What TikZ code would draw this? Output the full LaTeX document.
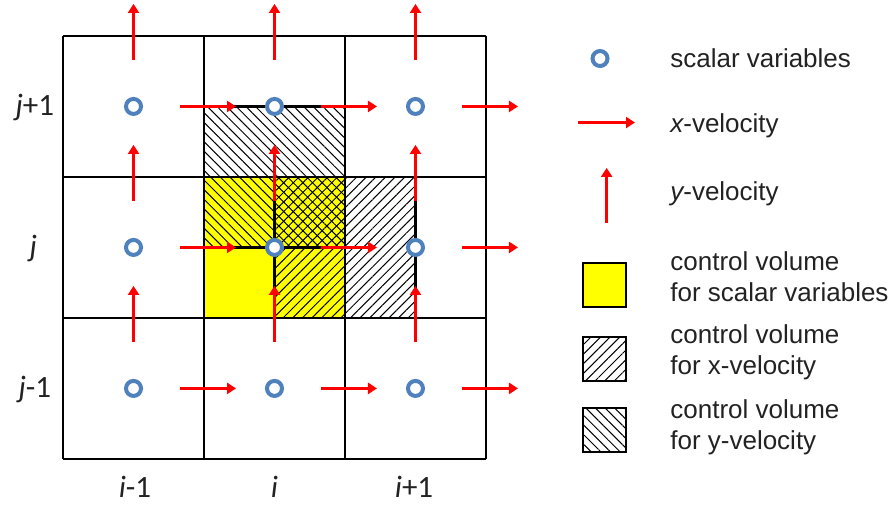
\documentclass[tikz,border=0pt]{standalone}
\usepackage{fontspec}
\setmainfont{Liberation Sans}
\newfontfamily\idxfont{Carlito}
\usetikzlibrary{arrows.meta, patterns.meta}
\definecolor{cred}{HTML}{FF0000}
\definecolor{cblue}{HTML}{4F81BD}
\definecolor{cyellow}{HTML}{FFFF00}
\definecolor{ctext}{HTML}{222222}
\tikzset{
  every picture/.style={x=70.5pt, y=70.5pt},
  gridline/.style={draw=black, line width=0.65pt},
  cvline/.style={draw=black, line width=1.3pt},
  vel/.style={-{Triangle[length=4.5pt, width=5.5pt]}, draw=cred, line width=1.5pt},
  scalar/.style={circle, draw=cblue, fill=white, line width=2pt, minimum size=7.5pt, inner sep=0pt},
  xhatch/.style={pattern={Lines[angle=45, distance=3.4pt, line width=0.5pt]}},
  yhatch/.style={pattern={Lines[angle=-45, distance=3.4pt, line width=0.5pt]}},
  legend/.style={font=\fontsize{13}{15.5}\selectfont, text=ctext, anchor=west, align=left, inner sep=0pt},
  index/.style={font=\idxfont\fontsize{15.5}{18}\selectfont, text=ctext},
}

\begin{document}
\begin{tikzpicture}
  \useasboundingbox (-0.447,-0.326) rectangle (5.887,3.255);
  % control volumes
  \fill[cyellow] (1,1) rectangle (2,2);
  \path[yhatch] (1,1.5) rectangle (2,2.5);
  \path[xhatch] (1.5,1) rectangle (2.5,2);
  \foreach \k in {0,...,3} {
    \draw[gridline] (\k,0) -- (\k,3);
    \draw[gridline] (0,\k) -- (3,\k);
  }
  \draw[cvline] (1,1) rectangle (2,2);
  \draw[cvline] (1,1.5) rectangle (2,2.5);
  \draw[cvline] (1.5,1) rectangle (2.5,2);
  % velocities on the cell faces
  \foreach \f in {1,2,3}
    \foreach \c in {0.5,1.5,2.5} {
      \draw[vel] (\f-0.17,\c) -- (\f+0.227,\c);
      \draw[vel] (\c,\f-0.17) -- (\c,\f+0.227);
    }
  % scalar variables
  \foreach \i in {0,1,2}
    \foreach \j in {0,1,2}
      \node[scalar] (s\i\j) at (\i+0.5,\j+0.5) {};
  % indices
  \node[index] (jp) at (-0.2,2.49) {\itshape j\upshape+1};
  \node[index] (jc) at (-0.21,1.49) {\itshape j};
  \node[index] (jm) at (-0.2,0.49) {\itshape j\upshape-1};
  \node[index] (im) at (0.51,-0.2) {\itshape i\upshape-1};
  \node[index] (ic) at (1.5,-0.2) {\itshape i};
  \node[index] (ip) at (2.49,-0.2) {\itshape i\upshape+1};
  % legend
  \node[scalar] (lgs) at (3.809,2.84) {};
  \node[legend] (lgst) at (4.305,2.84) {scalar variables};
  \coordinate (lgxa) at (3.652,2.386);
  \coordinate (lgxb) at (4.057,2.386);
  \draw[vel] (lgxa) -- (lgxb);
  \node[legend] (lgxt) at (4.305,2.36) {\itshape x\upshape-velocity};
  \coordinate (lgya) at (3.856,1.674);
  \coordinate (lgyb) at (3.856,2.064);
  \draw[vel] (lgya) -- (lgyb);
  \node[legend] (lgyt) at (4.305,1.88) {\itshape y\upshape-velocity};
  \draw[cvline, fill=cyellow] (3.688,1.078) rectangle (3.993,1.39);
  \node[legend] (lgpt) at (4.305,1.29) {control volume\\for scalar variables};
  \draw[cvline, xhatch] (3.688,0.553) rectangle (3.993,0.865);
  \node[legend] (lgut) at (4.305,0.759) {control volume\\for x-velocity};
  \draw[cvline, yhatch] (3.688,0.05) rectangle (3.993,0.362);
  \node[legend] (lgvt) at (4.305,0.227) {control volume\\for y-velocity};
\end{tikzpicture}
\end{document}
